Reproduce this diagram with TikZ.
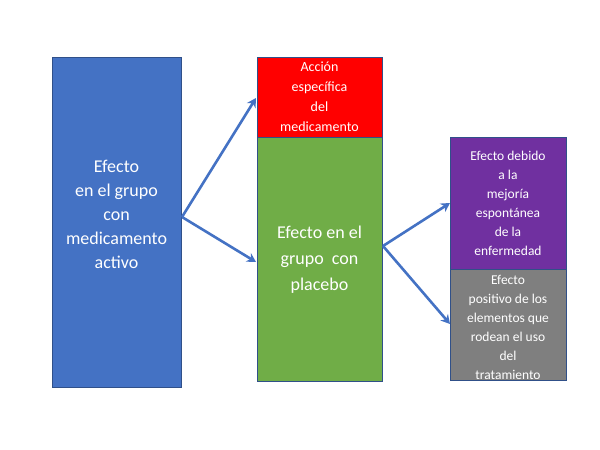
\documentclass[tikz,border=0pt]{standalone}
\usepackage{fontspec}
\setmainfont{Carlito}
\usetikzlibrary{arrows.meta}
\definecolor{cblue}{HTML}{4472C4}
\definecolor{cgreen}{HTML}{70AD47}
\definecolor{cpurple}{HTML}{7030A0}
\definecolor{cgray}{HTML}{7F7F7F}
\begin{document}
\begin{tikzpicture}[x=1pt,y=-1pt,
  box/.style={draw=cblue!70!black,line width=0.6pt,text=white,align=center,inner sep=0pt},
  arr/.style={draw=cblue,line width=2.6pt,-{Stealth[length=9pt,width=10pt]}}]
\useasboundingbox (0,0) rectangle (600,450);
\fill[white] (0,0) rectangle (600,450);
\draw[box,fill=cblue] (52,57) rectangle (181,387);
\node[text=white,align=center,font=\fontsize{18}{24}\selectfont] (a) at (116.5,214) {Efecto\\en el grupo\\con\\medicamento\\activo};
\draw[box,fill=red] (257,57) rectangle (382,137);
\node[text=white,align=center,font=\fontsize{14}{20}\selectfont] (b) at (319.5,97) {Acción\\específica\\del\\medicamento};
\draw[box,fill=cgreen] (257,137) rectangle (382,381);
\node[text=white,align=center,font=\fontsize{18}{26}\selectfont] (c) at (319.5,260) {Efecto en el\\grupo\ \ con\\placebo};
\draw[box,fill=cpurple] (450,137) rectangle (566,269);
\node[text=white,align=center,font=\fontsize{13.5}{19}\selectfont] (d) at (508,203) {Efecto debido\\a la\\mejoría\\espontánea\\de la\\enfermedad};
\draw[box,fill=cgray] (450,269) rectangle (566,380);
\node[text=white,align=center,font=\fontsize{13.5}{19}\selectfont] (e) at (508,327) {Efecto\\positivo de los\\elementos que\\rodean el uso\\del\\tratamiento};
\coordinate (s1) at (182,217);
\coordinate (t1) at (256,98);
\coordinate (t2) at (256,262);
\coordinate (s2) at (383,246);
\coordinate (t3) at (450,203);
\coordinate (t4) at (450,324);
\draw[arr] (s1) -- (t1);
\draw[arr] (s1) -- (t2);
\draw[arr] (s2) -- (t3);
\draw[arr] (s2) -- (t4);
\end{tikzpicture}
\end{document}
